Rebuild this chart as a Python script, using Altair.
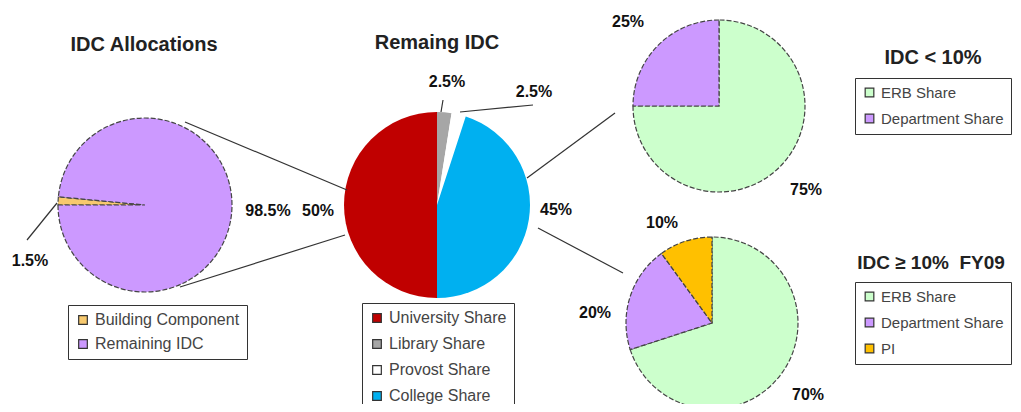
import math
import altair as alt
import pandas as pd

# ---------------- data ----------------
alloc_categories = ["Building Component", "Remaining IDC"]
alloc_values = [1.5, 98.5]
alloc_stack_order = [0, 1]
alloc_colors = ["#F7C96E", "#CC99FF"]

remaining_categories = ["University Share", "Library Share", "Provost Share", "College Share"]
remaining_values = [50, 2.5, 2.5, 45]
remaining_stack_order = [3, 0, 1, 2]
remaining_colors = ["#C00000", "#A6A6A6", "#FFFFFF", "#00B0F0"]

low_categories = ["ERB Share", "Department Share"]
low_values = [75, 25]
low_stack_order = [0, 1]
low_colors = ["#CCFFCC", "#CC99FF"]

high_categories = ["ERB Share", "Department Share", "PI"]
high_values = [70, 20, 10]
high_stack_order = [0, 1, 2]
high_colors = ["#CCFFCC", "#CC99FF", "#FFC000"]

titles = ["IDC Allocations", "Remaing IDC", "IDC < 10%", "IDC \u2265 10%\u00a0\u00a0FY09"]

# ---------------- layout ----------------
W, H = 1005, 396
TAU = 2 * math.pi
FONT = "Liberation Sans"


def pct(v):
    return f"{v:g}%"


def pie(cats, vals, order, colors, cx, cy, r, start, lx, ly, stroke=None,
        row_pad=10, font_size=16):
    df = pd.DataFrame({"category": cats, "value": vals, "order": order})
    kw = dict(outerRadius=r)
    if stroke:
        kw.update(stroke=stroke, strokeWidth=1.2, strokeDash=[5, 2])
    return alt.Chart(df).mark_arc(**kw).encode(
        theta=alt.Theta("value:Q", stack=True,
                        scale=alt.Scale(domain=[0, 100], range=[start, start + TAU])),
        color=alt.Color(
            "category:N",
            title=None,
            scale=alt.Scale(domain=cats, range=colors),
            legend=alt.Legend(
                orient="none", legendX=lx, legendY=ly, direction="vertical",
                symbolType="square", symbolSize=75, symbolStrokeColor="#333",
                symbolStrokeWidth=1.2, symbolDash=[1, 0], labelFont=FONT,
                labelFontSize=font_size, labelColor="#444", strokeColor="#333",
                fillColor="white", padding=7, rowPadding=row_pad, labelOffset=4,
            ),
        ),
        order=alt.Order("order:Q"),
        x=alt.value(cx),
        y=alt.value(cy),
    )


def label(txt, x, y, size=16, color="#111"):
    return alt.Chart(pd.DataFrame({"label": [txt]})).mark_text(
        font=FONT, fontSize=size, fontWeight="bold", color=color,
        align="center", baseline="middle",
    ).encode(text="label:N", x=alt.value(x), y=alt.value(y))


def line(x1, y1, x2, y2):
    return alt.Chart(pd.DataFrame({"k": [0]})).mark_rule(color="#333", strokeWidth=1.2).encode(
        x=alt.value(x1), y=alt.value(y1), x2=alt.value(x2), y2=alt.value(y2)
    )


pies = [
    pie(alloc_categories, alloc_values, alloc_stack_order, alloc_colors,
        137, 197, 87, 1.5 * math.pi, 60, 297, stroke="#444", row_pad=8),
    pie(remaining_categories, remaining_values, remaining_stack_order, remaining_colors,
        429, 197, 93, 0, 354, 295, row_pad=10),
    pie(low_categories, low_values, low_stack_order, low_colors,
        711, 98, 86, 0, 847, 70, stroke="#444", row_pad=10, font_size=15),
    pie(high_categories, high_values, high_stack_order, high_colors,
        704, 315, 86, 0, 847, 274, stroke="#444", row_pad=10, font_size=15),
]

lines = [
    line(177, 114, 339, 182),
    line(172, 279, 337, 227),
    line(519, 170, 607, 105),
    line(530, 220, 615, 265),
    line(49, 195, 19, 232),
    line(435, 92, 433, 104),
    line(452, 104, 525, 97),
]

texts = [
    label(titles[0], 136, 37, 20, "#222"),
    label(titles[1], 429, 35, 20, "#222"),
    label(titles[2], 925, 50, 20, "#222"),
    label(titles[3], 923, 255, 19, "#222"),
    label(pct(alloc_values[0]), 22, 253),
    label(pct(alloc_values[1]), 260, 203),
    label(pct(remaining_values[0]), 310, 203),
    label(pct(remaining_values[1]), 439, 74),
    label(pct(remaining_values[2]), 526, 84),
    label(pct(remaining_values[3]), 548, 202),
    label(pct(low_values[1]), 620, 14),
    label(pct(low_values[0]), 798, 182),
    label(pct(high_values[2]), 654, 215),
    label(pct(high_values[1]), 587, 305),
    label(pct(high_values[0]), 800, 387),
]

chart = (
    alt.layer(*pies, *lines, *texts)
    .resolve_scale(theta="independent", color="independent")
    .properties(width=W, height=H, padding=0, autosize="none")
    .configure_view(strokeWidth=0)
)

chart.save("out.html", embed_options={"renderer": "svg", "actions": False})
